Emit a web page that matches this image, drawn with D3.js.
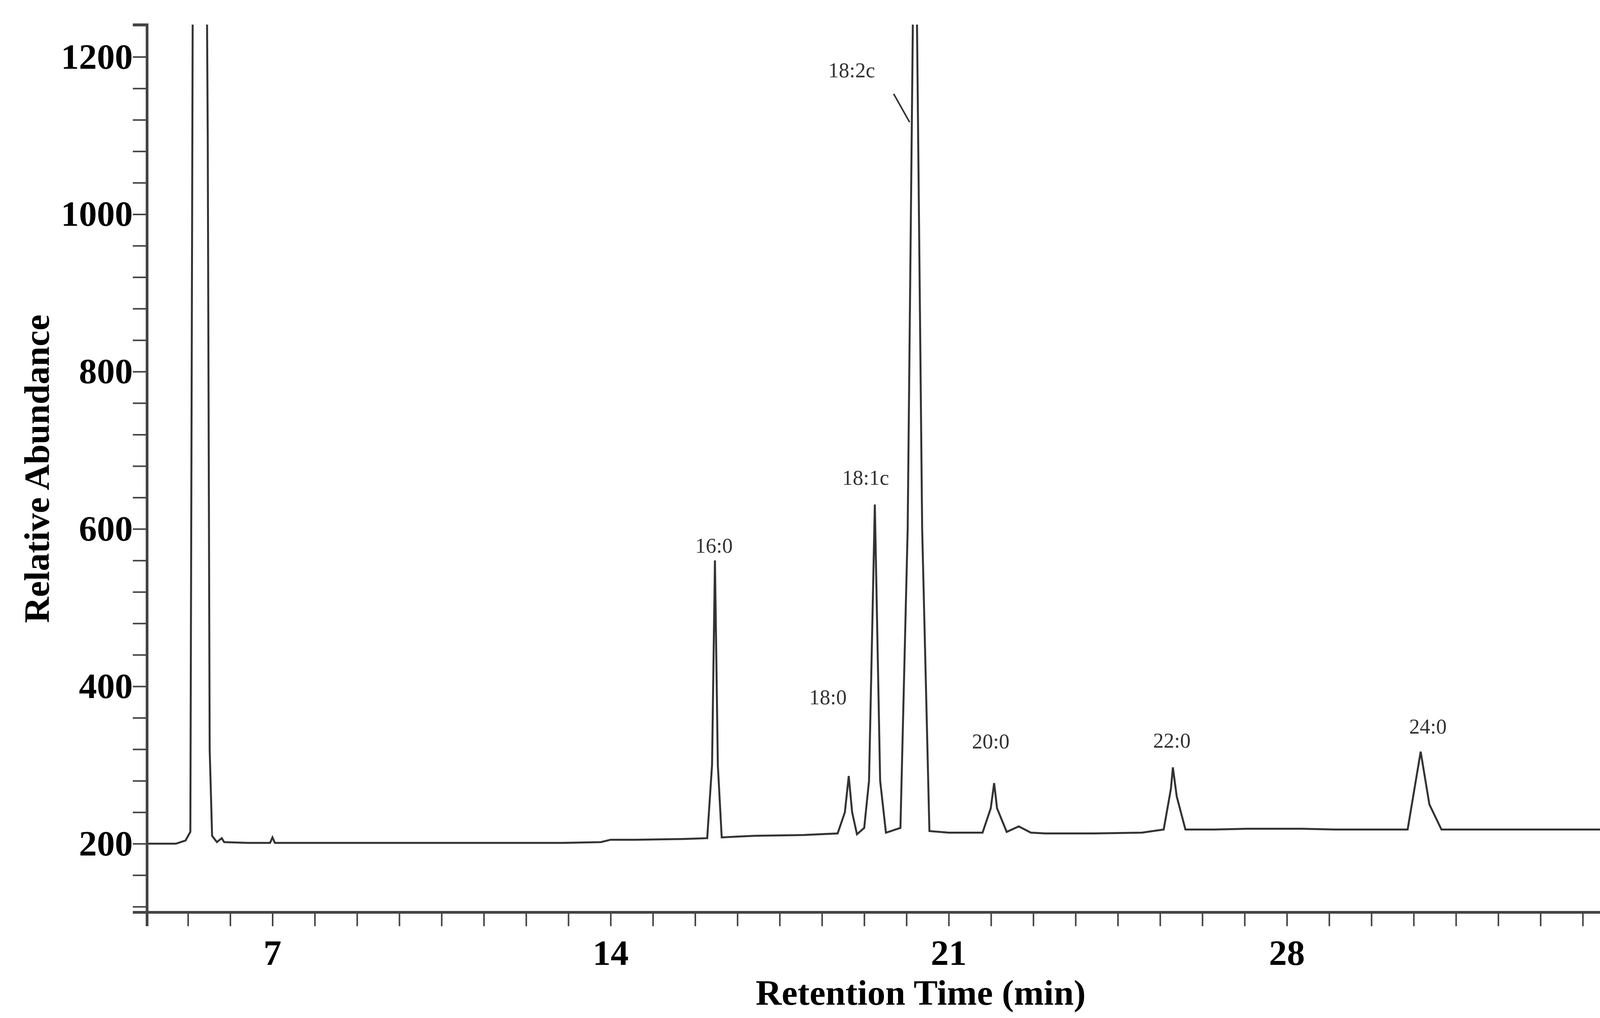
<!DOCTYPE html>
<html>
<head>
<meta charset="utf-8">
<script src="https://cdn.jsdelivr.net/npm/d3@7"></script>
<style>body{margin:0;background:#fff;}</style>
</head>
<body>
<div id="chart"></div>
<script>
// retention time (min) and relative abundance
var times = [4.4, 5.0, 5.2, 5.3, 5.33, 5.36, 5.62, 5.66, 5.7, 5.75, 5.85, 5.95, 6.0, 6.5, 6.95, 7.0, 7.05, 8, 9, 10, 11, 12, 13, 13.8, 14.0, 14.5, 15.5, 16.0, 16.1, 16.16, 16.22, 16.3, 16.6, 17, 18, 18.7, 18.85, 18.93, 19.0, 19.1, 19.25, 19.35, 19.47, 19.58, 19.7, 20.0, 20.15, 20.3, 20.45, 20.6, 21.0, 21.7, 21.87, 21.94, 22.0, 22.2, 22.45, 22.7, 23, 24, 25.0, 25.45, 25.6, 25.64, 25.72, 25.9, 26.5, 27.2, 28.0, 28.3, 29.0, 30.5, 30.77, 30.95, 31.2, 32, 33, 34, 35];
var abundance = [200, 200, 204, 215, 850, 1500, 1500, 1100, 320, 210, 202, 207, 202, 201, 201, 208, 201, 201, 201, 201, 201, 201, 201, 202, 205, 205, 206, 207, 300, 560, 300, 208, 209, 210, 211, 213, 240, 286, 240, 212, 220, 280, 631, 280, 214, 220, 600, 1500, 600, 216, 214, 214, 245, 277, 245, 215, 222, 214, 213, 213, 214, 218, 270, 297, 260, 218, 218, 219, 219, 219, 218, 218, 317, 250, 218, 218, 218, 218, 218];

// peak labels
var peakNames = ["16:0", "18:0", "18:1c", "18:2c", "20:0", "22:0", "24:0"];
var peakLabelX = [16.14, 18.5, 19.28, 18.99, 21.87, 25.62, 30.92];
var peakLabelY = [570, 377, 656, 1174, 321, 322, 340];

var xTickValues = [7, 14, 21, 28, 35];
var yTickValues = [200, 400, 600, 800, 1000, 1200];

var width = 4251, height = 2606;
var marginLeft = 376, marginRight = 4160, marginTop = 63, marginBottom = 2335;

var svg = d3.select("#chart").append("svg")
    .attr("width", width)
    .attr("height", height);

var x = d3.scaleLinear().domain([4.4, 35]).range([marginLeft, marginRight]);
var y = d3.scaleLinear().domain([113, 1241]).range([marginBottom, marginTop]);

svg.append("clipPath").attr("id", "clip")
    .append("rect").attr("x", marginLeft).attr("y", marginTop)
    .attr("width", marginRight - marginLeft).attr("height", marginBottom - marginTop);

var line = d3.line()
    .x(function (d, i) { return x(times[i]); })
    .y(function (d) { return y(d); });

svg.append("path")
    .datum(abundance)
    .attr("clip-path", "url(#clip)")
    .attr("d", line)
    .attr("fill", "none")
    .attr("stroke", "#333")
    .attr("stroke-width", 5);

// minor ticks
var xMinor = d3.range(5.25, 35.01, 0.875);
var xAxis = svg.append("g")
    .attr("transform", "translate(0," + marginBottom + ")")
    .call(d3.axisBottom(x).tickValues(xMinor).tickSize(36).tickFormat(""));
var yMinor = d3.range(120, 1241, 40);
var yAxis = svg.append("g")
    .attr("transform", "translate(" + marginLeft + ",0)")
    .call(d3.axisLeft(y).tickValues(yMinor).tickSize(36).tickFormat(""));
[xAxis, yAxis].forEach(function (g) {
    g.select(".domain").attr("stroke", "#444").attr("stroke-width", 7);
    g.selectAll(".tick line").attr("stroke", "#444").attr("stroke-width", 4);
});

svg.selectAll(".xlab").data(xTickValues).enter().append("text")
    .attr("x", function (d) { return x(d); })
    .attr("y", 2470)
    .attr("text-anchor", "middle")
    .attr("font-family", "Liberation Serif")
    .attr("font-weight", "bold")
    .attr("font-size", "92px")
    .text(function (d) { return d; });

svg.selectAll(".ylab").data(yTickValues).enter().append("text")
    .attr("x", 340)
    .attr("y", function (d) { return y(d) + 30; })
    .attr("text-anchor", "end")
    .attr("font-family", "Liberation Serif")
    .attr("font-weight", "bold")
    .attr("font-size", "92px")
    .text(function (d) { return d; });

svg.append("text")
    .attr("x", 2357).attr("y", 2572)
    .attr("text-anchor", "middle")
    .attr("font-family", "Liberation Serif")
    .attr("font-weight", "bold")
    .attr("font-size", "92px")
    .text("Retention Time (min)");

svg.append("text")
    .attr("transform", "translate(125,1200) rotate(-90)")
    .attr("text-anchor", "middle")
    .attr("font-family", "Liberation Serif")
    .attr("font-weight", "bold")
    .attr("font-size", "92px")
    .text("Relative Abundance");

svg.selectAll(".peak").data(peakNames).enter().append("text")
    .attr("x", function (d, i) { return x(peakLabelX[i]); })
    .attr("y", function (d, i) { return y(peakLabelY[i]); })
    .attr("text-anchor", "middle")
    .attr("font-family", "Liberation Serif")
    .attr("font-size", "54px")
    .attr("fill", "#333")
    .text(function (d) { return d; });

// leader line for 18:2c
svg.append("line")
    .attr("x1", x(19.86)).attr("y1", y(1153))
    .attr("x2", x(20.19)).attr("y2", y(1117))
    .attr("stroke", "#333").attr("stroke-width", 4);
</script>
</body>
</html>
